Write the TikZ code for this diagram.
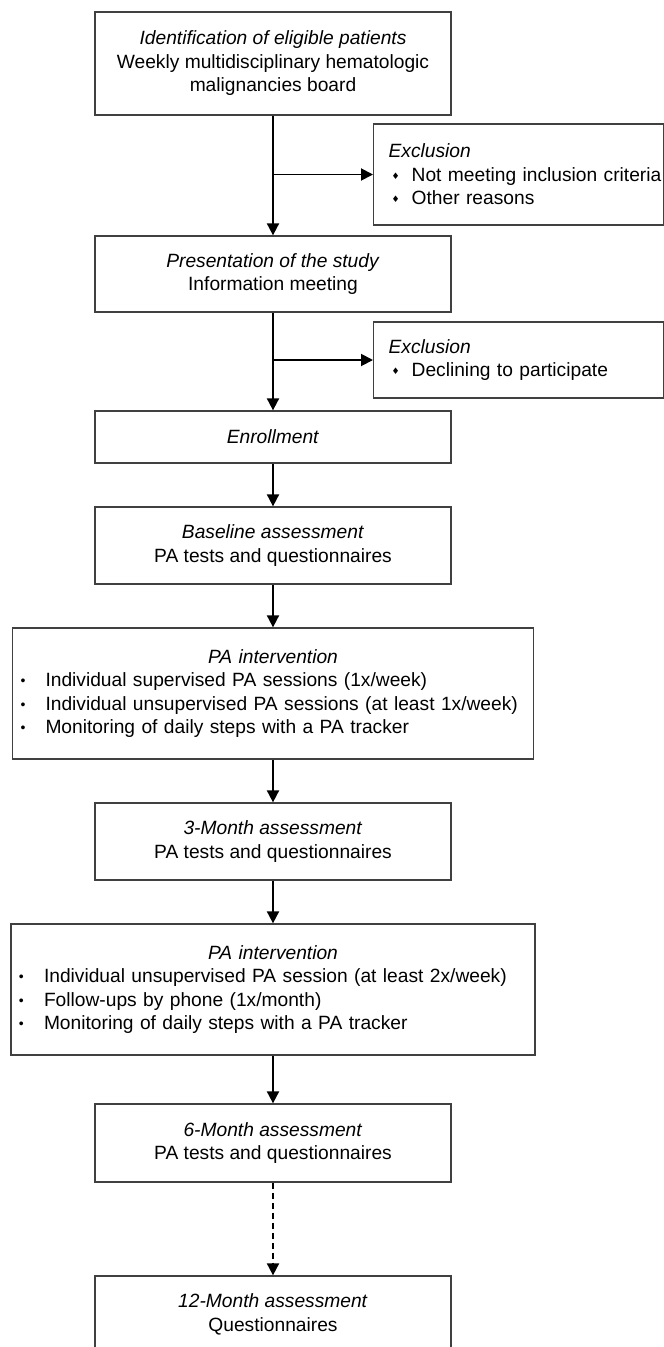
\documentclass[tikz,border=0pt]{standalone}
\usepackage{fontspec}
\setmainfont{Liberation Sans}
\newfontfamily\symfont{DejaVu Sans}
\usetikzlibrary{arrows.meta,positioning}

\newcommand{\exhead}{\hspace*{10pt}\textit{Exclusion}}
\newcommand{\dia}[1]{\hspace*{13pt}\makebox[20pt][l]{\raisebox{2pt}{\symfont\fontsize{9}{9}\selectfont ♦}}\mbox{#1}}
\newcommand{\bul}{\makebox[25pt][l]{\raisebox{1pt}{\fontsize{14}{14}\selectfont •}}}
\newcommand{\head}[2]{\makebox[#1]{\itshape #2}}

\begin{document}
\begin{tikzpicture}[x=1pt,y=-1pt,
  box/.style={draw=black!75, line width=1.3pt, inner sep=0pt, align=center,
    minimum width=356pt, text=black, font=\fontsize{19.2}{23.5}\selectfont},
  sidebox/.style={box, anchor=west, align=left, minimum width=0pt,
    text width=280pt, inner xsep=5pt},
  listbox/.style={box, align=left, minimum width=0pt, inner xsep=8pt},
  arr/.style={-{Triangle[length=12pt,width=12pt]}, line width=1.9pt, black}]

\useasboundingbox (0,0) rectangle (664,1347);

\node[box, minimum height=103pt] (ident) at (273,63.5) {\textit{Identification of eligible patients}\\Weekly multidisciplinary hematologic\\malignancies board};
\node[sidebox, minimum height=101pt] (excl1) at (373,174.5) {\exhead\\\dia{Not meeting inclusion criteria}\\\dia{Other reasons}};
\node[box, minimum height=76pt] (present) at (273,274) {\textit{Presentation of the study}\\Information meeting};
\node[sidebox, minimum height=76pt] (excl2) at (373,360) {\exhead\\\dia{Declining to participate}};
\node[box, minimum height=52pt] (enrol) at (273,437) {\textit{Enrollment}};
\node[box, minimum height=77pt] (base) at (273,545.5) {\textit{Baseline assessment}\\PA tests and questionnaires};
\node[listbox, text width=505pt, minimum height=131pt] (inter1) at (273,693.5) {\head{505pt}{PA intervention}\\
  \bul Individual supervised PA sessions (1x/week)\\
  \bul Individual unsupervised PA sessions (at least 1x/week)\\
  \bul Monitoring of daily steps with a PA tracker};
\node[box, minimum height=77pt] (month3) at (273,841.5) {\textit{3-Month assessment}\\PA tests and questionnaires};
\node[listbox, text width=508pt, minimum height=131pt] (inter2) at (273,989.5) {\head{508pt}{PA intervention}\\
  \bul Individual unsupervised PA session (at least 2x/week)\\
  \bul Follow-ups by phone (1x/month)\\
  \bul Monitoring of daily steps with a PA tracker};
\node[box, minimum height=78pt] (month6) at (273,1143) {\textit{6-Month assessment}\\PA tests and questionnaires};
\node[box, minimum height=77pt] (month12) at (273,1314.5) {\textit{12-Month assessment}\\Questionnaires};

% branch points
\coordinate (split1) at (ident.south |- excl1.west);
\coordinate (split2) at (present.south |- excl2.west);

\draw[arr] (ident) -- (present);
\draw[arr] (split1) -- (excl1.west);
\draw[arr] (present) -- (enrol);
\draw[arr] (split2) -- (excl2.west);
\draw[arr] (enrol) -- (base);
\draw[arr] (base) -- (inter1);
\draw[arr] (inter1) -- (month3);
\draw[arr] (month3) -- (inter2);
\draw[arr] (inter2) -- (month6);
\draw[arr, dash pattern=on 6pt off 4pt] (month6) -- (month12);

\end{tikzpicture}
\end{document}
